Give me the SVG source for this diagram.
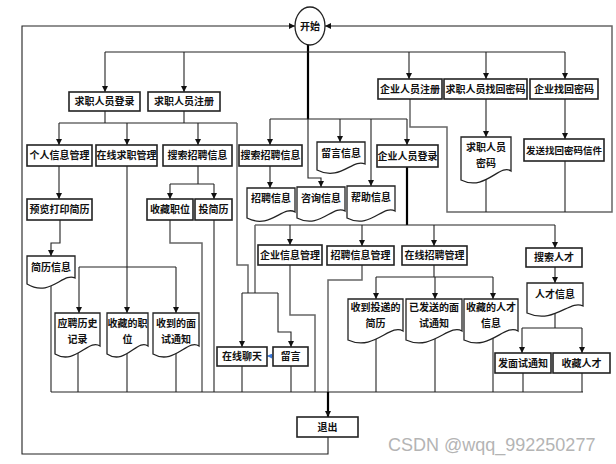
<svg xmlns="http://www.w3.org/2000/svg" width="616" height="464" viewBox="0 0 616 464">
<style>
.bx{fill:#fff;stroke:#222;stroke-width:1.6}
.dc{fill:#fff;stroke:#222;stroke-width:1.3}
.t{font-family:"Noto Sans CJK SC","Noto Sans CJK TC",sans-serif;font-size:10px;font-weight:bold;fill:#111;text-anchor:middle}
.l{fill:none;stroke:#222;stroke-width:1.1}
.g{fill:none;stroke:#666;stroke-width:1.5}
.k{fill:none;stroke:#000;stroke-width:2.2}
.w{font-family:"Liberation Sans",Arial,sans-serif;font-size:18px;fill:#b4b4b4}
</style>
<defs>
<marker id="a" viewBox="0 0 6 6" refX="6" refY="3" markerWidth="6" markerHeight="6" orient="auto" markerUnits="userSpaceOnUse"><path d="M0,0 L6,3 L0,6 Z" fill="#111"/></marker>
<marker id="b" viewBox="0 0 6 6" refX="6" refY="3" markerWidth="5" markerHeight="5" orient="auto" markerUnits="userSpaceOnUse"><path d="M0,0 L6,3 L0,6 Z" fill="#3a78d8"/></marker>
</defs>
<rect width="616" height="464" fill="#fff"/>
<g id="connectors">
<path class="k" d="M308,45 V119"/>
<path class="l" d="M105,52 H565"/>
<path class="l" d="M105,52 V92" marker-end="url(#a)"/>
<path class="l" d="M184,52 V92" marker-end="url(#a)"/>
<path class="l" d="M409,52 V79" marker-end="url(#a)"/>
<path class="l" d="M486,52 V79" marker-end="url(#a)"/>
<path class="l" d="M565,52 V79" marker-end="url(#a)"/>
<path class="l" d="M270,119 H407"/>
<path class="l" d="M270,119 V145" marker-end="url(#a)"/>
<path class="l" d="M340,119 V142" marker-end="url(#a)"/>
<path class="l" d="M407,119 V145" marker-end="url(#a)"/>
<path class="l" d="M371,119 V186" marker-end="url(#a)"/>
<path class="l" d="M308,119 V178 H321 V187" marker-end="url(#a)"/>
<path class="l" d="M105,100 V123"/>
<path class="l" d="M184,100 V123"/>
<path class="l" d="M59,123 H237"/>
<path class="l" d="M59,123 V145" marker-end="url(#a)"/>
<path class="l" d="M127,123 V145" marker-end="url(#a)"/>
<path class="l" d="M198,123 V145" marker-end="url(#a)"/>
<path class="g" d="M237,123 V265 H248 V293"/>
<path class="l" d="M59,166 V199" marker-end="url(#a)"/>
<path class="l" d="M60,210 V243 H51 V256" marker-end="url(#a)"/>
<path class="l" d="M51,275 V392"/>
<path class="l" d="M127,166 V313" marker-end="url(#a)"/>
<path class="l" d="M79,267 H176"/>
<path class="l" d="M79,267 V313" marker-end="url(#a)"/>
<path class="l" d="M176,267 V313" marker-end="url(#a)"/>
<path class="l" d="M78,340 V392"/>
<path class="l" d="M127,340 V392"/>
<path class="l" d="M176,340 V392"/>
<path class="l" d="M198,166 V184 M170,184 H214"/>
<path class="l" d="M170,184 V199" marker-end="url(#a)"/>
<path class="l" d="M214,184 V199" marker-end="url(#a)"/>
<path class="g" d="M170,210 V243 H202 V392"/>
<path class="l" d="M214,210 V392"/>
<path class="l" d="M270,160 V188" marker-end="url(#a)"/>
<path class="k" d="M407,160 V225"/>
<path class="l" d="M255,225 H555"/>
<path class="l" d="M290,225 V245" marker-end="url(#a)"/>
<path class="l" d="M362,225 V246" marker-end="url(#a)"/>
<path class="l" d="M434,225 V246" marker-end="url(#a)"/>
<path class="l" d="M555,225 V248" marker-end="url(#a)"/>
<path class="g" d="M255,225 V293"/>
<path class="l" d="M242,293 H278"/>
<path class="l" d="M242,293 V347" marker-end="url(#a)"/>
<path class="l" d="M278,293 V332 H291 V347" marker-end="url(#a)"/>
<path class="l" d="M242,360 V392"/>
<path class="l" d="M291,360 V392"/>
<path fill="none" stroke="#3a78d8" stroke-width="1" d="M273,356 H267" marker-end="url(#b)"/>
<path class="g" d="M290,255 V315 H315 V392"/>
<path class="g" d="M362,255 V280 H328 V392"/>
<path class="l" d="M434,255 V277 M376,277 H493"/>
<path class="l" d="M376,277 V299" marker-end="url(#a)"/>
<path class="l" d="M435,277 V299" marker-end="url(#a)"/>
<path class="l" d="M493,277 V299" marker-end="url(#a)"/>
<path class="l" d="M376,330 V392"/>
<path class="l" d="M435,330 V392"/>
<path class="l" d="M493,330 V392"/>
<path class="l" d="M555,260 V283" marker-end="url(#a)"/>
<path class="l" d="M555,305 V328 M522,328 H582"/>
<path class="l" d="M522,328 V353" marker-end="url(#a)"/>
<path class="l" d="M582,328 V353" marker-end="url(#a)"/>
<path class="l" d="M523,363 V392"/>
<path class="l" d="M582,363 V392"/>
<path class="l" d="M51,392 H583"/>
<path class="k" d="M328,392 V417" marker-end="url(#a)"/>
<path class="l" d="M328,430 V454 H22 V26 H295" marker-end="url(#a)"/>
<path class="g" d="M410,90 V127 H447 V212 H612 V26 H325" marker-end="url(#a)"/>
<path class="l" d="M486,99 V137" marker-end="url(#a)"/>
<path class="l" d="M565,99 V139" marker-end="url(#a)"/>
<path class="l" d="M486,170 V212"/>
<path class="l" d="M565,150 V212"/>
</g>
<g id="start"><ellipse cx="310" cy="26" rx="15" ry="19" fill="#fff" stroke="#222" stroke-width="1.3"/><text class="t" x="310" y="29.5">开始</text></g>
<g id="n_qz_login"><rect class="bx" x="69" y="92" width="71" height="19"/><text class="t" x="104.5" y="105">求职人员登录</text></g>
<g id="n_qz_reg"><rect class="bx" x="148" y="92" width="72" height="19"/><text class="t" x="184" y="105">求职人员注册</text></g>
<g id="n_qy_reg"><rect class="bx" x="378" y="79" width="64" height="20"/><text class="t" x="410" y="92.5">企业人员注册</text></g>
<g id="n_qz_pwd"><rect class="bx" x="444" y="79" width="83" height="20"/><text class="t" x="485.5" y="92.5">求职人员找回密码</text></g>
<g id="n_qy_pwd"><rect class="bx" x="530" y="79" width="68" height="20"/><text class="t" x="564" y="92.5">企业找回密码</text></g>
<g id="n_grxx"><rect class="bx" x="27" y="145" width="65" height="21"/><text class="t" x="59.5" y="159">个人信息管理</text></g>
<g id="n_zxqz"><rect class="bx" x="96" y="145" width="61" height="21"/><text class="t" x="126.5" y="159">在线求职管理</text></g>
<g id="n_ss1"><rect class="bx" x="163" y="145" width="69" height="21"/><text class="t" x="197.5" y="159">搜索招聘信息</text></g>
<g id="n_ss2"><rect class="bx" x="239" y="145" width="63" height="21"/><text class="t" x="270.5" y="159">搜索招聘信息</text></g>
<g id="n_qy_login"><rect class="bx" x="377" y="145" width="61" height="22"/><text class="t" x="407.5" y="159.5">企业人员登录</text></g>
<g id="n_send"><rect class="bx" x="524" y="139" width="80" height="22"/><text class="t" x="564" y="153.5" style="font-size:9.5px">发送找回密码信件</text></g>
<g id="n_ylj"><rect class="bx" x="27" y="199" width="65" height="21"/><text class="t" x="59.5" y="213">预览打印简历</text></g>
<g id="n_sczw"><rect class="bx" x="147" y="199" width="46" height="21"/><text class="t" x="170" y="213">收藏职位</text></g>
<g id="n_tjl"><rect class="bx" x="195" y="199" width="37" height="21"/><text class="t" x="213.5" y="213">投简历</text></g>
<g id="n_qyxx"><rect class="bx" x="258" y="245" width="64" height="20"/><text class="t" x="290" y="258.5">企业信息管理</text></g>
<g id="n_zpxx"><rect class="bx" x="327" y="246" width="67" height="19"/><text class="t" x="360.5" y="259">招聘信息管理</text></g>
<g id="n_zxzp"><rect class="bx" x="402" y="246" width="65" height="19"/><text class="t" x="434.5" y="259">在线招聘管理</text></g>
<g id="n_ssrc"><rect class="bx" x="526" y="248" width="56" height="19"/><text class="t" x="554" y="261">搜索人才</text></g>
<g id="n_zxlt"><rect class="bx" x="217" y="347" width="50" height="19"/><text class="t" x="242" y="360">在线聊天</text></g>
<g id="n_ly"><rect class="bx" x="273" y="347" width="35" height="19"/><text class="t" x="290.5" y="360">留言</text></g>
<g id="n_fms"><rect class="bx" x="495" y="353" width="56" height="20"/><text class="t" x="523" y="366.5">发面试通知</text></g>
<g id="n_scrc"><rect class="bx" x="553" y="353" width="57" height="20"/><text class="t" x="581.5" y="366.5">收藏人才</text></g>
<g id="n_exit"><rect class="bx" x="297" y="417" width="61" height="20"/><text class="t" x="327.5" y="430.5">退出</text></g>
<g id="d_jlxx"><path class="dc" d="M27,256 H75 V278 C63,272 50,298 27,284 Z"/><text class="t" x="51" y="270.5">简历信息</text></g>
<g id="d_ypls"><path class="dc" d="M55,313 H100 V346 C89,338 75,366 55,354 Z"/><text class="t" x="77.5" y="326.5">应聘历史</text><text class="t" x="77.5" y="343">记录</text></g>
<g id="d_sczw"><path class="dc" d="M107,313 H148 V346 C138,338 125,366 107,354 Z"/><text class="t" x="127.5" y="326.5">收藏的职</text><text class="t" x="127.5" y="343">位</text></g>
<g id="d_sdms"><path class="dc" d="M153,313 H199 V346 C188,338 174,366 153,354 Z"/><text class="t" x="176" y="326.5">收到的面</text><text class="t" x="176" y="343">试通知</text></g>
<g id="d_zpxx"><path class="dc" d="M247,188 H295 V212 C283,205 270,230 247,218 Z"/><text class="t" x="271" y="202">招聘信息</text></g>
<g id="d_zxxx"><path class="dc" d="M297,187 H345 V211 C333,204 320,230 297,218 Z"/><text class="t" x="321" y="201.5">咨询信息</text></g>
<g id="d_bzxx"><path class="dc" d="M347,186 H395 V211 C383,204 370,230 347,218 Z"/><text class="t" x="371" y="201">帮助信息</text></g>
<g id="d_lyxx"><path class="dc" d="M317,142 H365 V164 C353,158 340,182 317,170 Z"/><text class="t" x="341" y="156.5">留言信息</text></g>
<g id="d_qzmm"><path class="dc" d="M461,137 H511 V171 C500,163 485,192 461,180 Z"/><text class="t" x="486" y="150.5">求职人员</text><text class="t" x="486" y="167">密码</text></g>
<g id="d_sdtd"><path class="dc" d="M348,299 H403 V331 C390,323 374,352 348,340 Z"/><text class="t" x="375.5" y="310.5">收到投递的</text><text class="t" x="375.5" y="327">简历</text></g>
<g id="d_yfs"><path class="dc" d="M406,299 H462 V331 C449,323 432,352 406,340 Z"/><text class="t" x="434" y="310.5">已发送的面</text><text class="t" x="434" y="327">试通知</text></g>
<g id="d_scrc"><path class="dc" d="M464,299 H518 V331 C505,323 489,352 464,340 Z"/><text class="t" x="491" y="310.5">收藏的人才</text><text class="t" x="491" y="327">信息</text></g>
<g id="d_rcxx"><path class="dc" d="M527,283 H583 V306 C570,299 554,325 527,313 Z"/><text class="t" x="555" y="298">人才信息</text></g>
<text class="w" x="388" y="451">CSDN @wqq_992250277</text>
</svg>
